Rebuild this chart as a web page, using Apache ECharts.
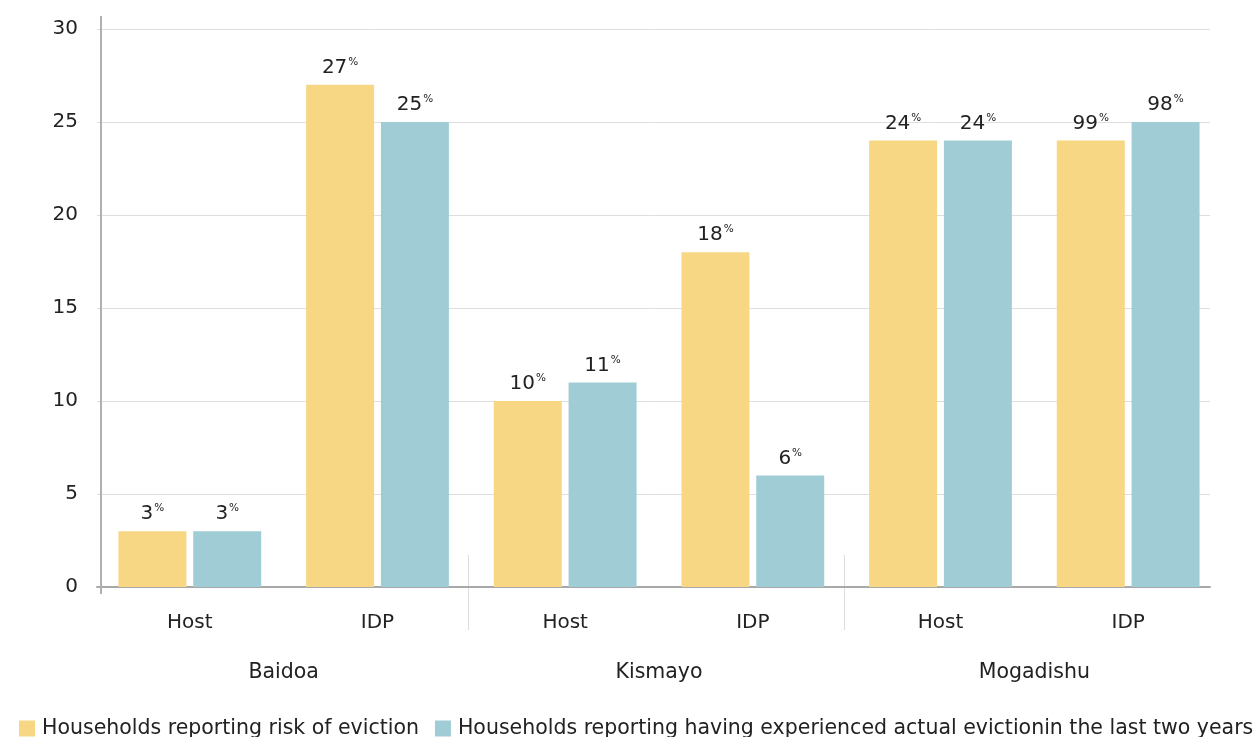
<!DOCTYPE html>
<html><head><meta charset="utf-8">
<script src="https://cdn.jsdelivr.net/npm/echarts@6/dist/echarts.min.js"></script>
<style>html,body{margin:0;padding:0;background:#fff}#c{width:1256px;height:737px}</style>
</head><body><div id="c"></div>
<script>
const categories = ['Host', 'IDP', 'Host', 'IDP', 'Host', 'IDP'];
const groups = ['Baidoa', 'Kismayo', 'Mogadishu'];
const seriesNames = ['Households reporting risk of eviction', 'Households reporting having experienced actual evictionin the last two years'];
const riskValues = [3, 27, 10, 18, 24, 24];
const evictedValues = [3, 25, 11, 6, 24, 25];
const riskLabels = ['3', '27', '10', '18', '24', '99'];
const evictedLabels = ['3', '25', '11', '6', '24', '98'];
const yMin = 0, yMax = 30, yInterval = 5;

const FONT = 'DejaVu Sans';
const TXT = '#222';
const YELLOW = '#F7D784';
const TEAL = '#A0CDD5';

const chart = echarts.init(document.getElementById('c'));
const labelRich = {
  v: { fontSize: 20, color: TXT, fontFamily: FONT, lineHeight: 22 },
  p: { fontSize: 10.5, color: TXT, fontFamily: FONT, verticalAlign: 'top', lineHeight: 22, padding: [0, 0, 6, 1] }
};
function mkLabel(arr) {
  return {
    show: true, position: 'top', distance: 6,
    formatter: p => '{v|' + arr[p.dataIndex] + '}{p|%}',
    rich: labelRich
  };
}
chart.setOption({
  animation: false,
  textStyle: { fontFamily: FONT },
  grid: [
    { left: 96, right: 34, top: 29, bottom: 150 },
    { left: 97, right: 46, top: 29, bottom: 150 }
  ],
  xAxis: [
    { gridIndex: 0, type: 'category', data: categories, position: 'bottom',
      axisLine: { show: false }, axisTick: { show: false },
      axisLabel: { fontSize: 20, color: TXT, margin: 26, fontFamily: FONT } },
    { gridIndex: 0, type: 'category', data: groups, position: 'bottom',
      axisLine: { show: false }, axisTick: { show: false },
      axisLabel: { fontSize: 20.5, color: TXT, margin: 75, fontFamily: FONT } },
    { gridIndex: 1, type: 'category', data: categories, position: 'bottom',
      axisLine: { show: true, lineStyle: { color: '#a8a8a8', width: 2 } },
      axisTick: { show: false }, axisLabel: { show: false } }
  ],
  yAxis: [
    { gridIndex: 0, type: 'value', min: yMin, max: yMax, interval: yInterval, show: false },
    { gridIndex: 1, type: 'value', min: yMin, max: yMax, interval: yInterval,
      axisLine: { show: false }, axisTick: { show: false },
      axisLabel: { fontSize: 20, color: TXT, margin: 19, fontFamily: FONT },
      splitLine: { show: true, lineStyle: { color: '#dedede', width: 1 } } }
  ],
  legend: {
    left: 14, top: 713, width: 2000, itemWidth: 16, itemHeight: 16, itemGap: 16,
    icon: 'rect',
    textStyle: { fontSize: 20.5, color: TXT, fontFamily: FONT, padding: [0, 0, 0, 2] },
    data: seriesNames
  },
  series: [
    { name: seriesNames[0], type: 'bar', xAxisIndex: 0, yAxisIndex: 0, data: riskValues,
      barWidth: 68, barGap: '10%', itemStyle: { color: YELLOW }, label: mkLabel(riskLabels) },
    { name: seriesNames[1], type: 'bar', xAxisIndex: 0, yAxisIndex: 0, data: evictedValues,
      barWidth: 68, barGap: '10%', itemStyle: { color: TEAL }, label: mkLabel(evictedLabels) }
  ]
});

// decorations: y axis line and group separators, positioned from the scales
const pTop = chart.convertToPixel({ xAxisIndex: 0, yAxisIndex: 0 }, [0, yMax]);
const pBot = chart.convertToPixel({ xAxisIndex: 0, yAxisIndex: 0 }, [0, yMin]);
const gfx = [{
  type: 'line', z: 10,
  shape: { x1: 101, y1: pTop[1] - 13, x2: 101, y2: pBot[1] + 7 },
  style: { stroke: '#b0b0b0', lineWidth: 2 }
}];
[1, 3].forEach(i => {
  const a = chart.convertToPixel({ xAxisIndex: 0, yAxisIndex: 0 }, [i, 0])[0];
  const b = chart.convertToPixel({ xAxisIndex: 0, yAxisIndex: 0 }, [i + 1, 0])[0];
  const x = Math.round((a + b) / 2) - 2.5;
  gfx.push({ type: 'line', shape: { x1: x, y1: pBot[1] - 32, x2: x, y2: pBot[1] + 43 },
    style: { stroke: '#dcdcdc', lineWidth: 1 } });
});
chart.setOption({ graphic: gfx });
</script></body></html>
